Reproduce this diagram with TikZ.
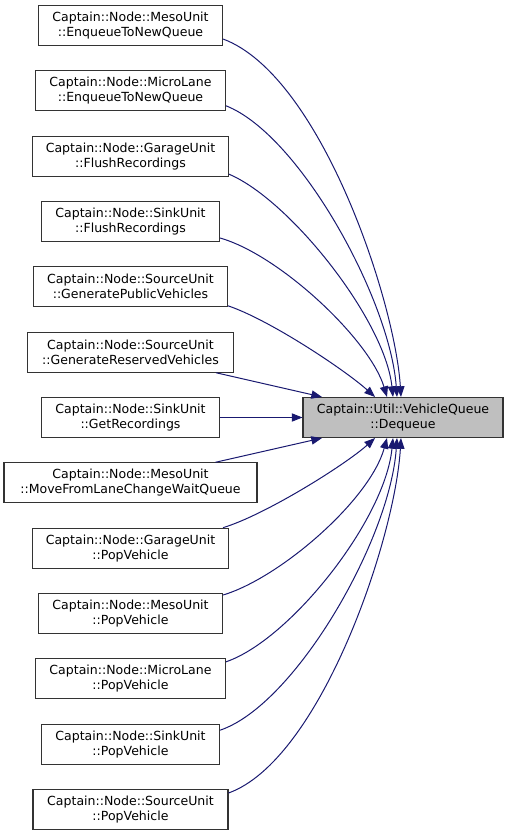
\documentclass[tikz,border=0pt]{standalone}
\usepackage{fontspec}
\setmainfont{DejaVu Sans}
\usetikzlibrary{arrows.meta,calc}
\definecolor{edgeblue}{HTML}{191970}
\definecolor{boxline}{HTML}{333333}
\definecolor{tgtfill}{HTML}{BFBFBF}
\begin{document}
\begin{tikzpicture}[x=0.75pt,y=-0.75pt,
  fn/.style={draw=boxline,line width=0.8pt,fill=white,minimum height=30pt,inner xsep=0pt,inner ysep=0pt,align=center,font=\fontsize{9.4pt}{11.25pt}\selectfont},
  tg/.style={fn,fill=tgtfill},
  ed/.style={draw=edgeblue,line width=0.75pt,-{Triangle[length=8pt,width=6.2pt]}}]
\useasboundingbox (0,0) rectangle (509,836);
\node[fn,minimum width=138pt] (n1) at (130.5,25.5) {Captain::Node::MesoUnit\\::EnqueueToNewQueue};
\node[fn,minimum width=142.5pt] (n2) at (130.5,90.8) {Captain::Node::MicroLane\\::EnqueueToNewQueue};
\node[fn,minimum width=147pt] (n3) at (130.5,156.2) {Captain::Node::GarageUnit\\::FlushRecordings};
\node[fn,minimum width=133.5pt] (n4) at (130.5,221.5) {Captain::Node::SinkUnit\\::FlushRecordings};
\node[fn,minimum width=145.5pt] (n5) at (130.5,286.8) {Captain::Node::SourceUnit\\::GeneratePublicVehicles};
\node[fn,minimum width=154.5pt] (n6) at (130.5,352.2) {Captain::Node::SourceUnit\\::GenerateReservedVehicles};
\node[fn,minimum width=133.5pt] (n7) at (130.5,417.5) {Captain::Node::SinkUnit\\::GetRecordings};
\node[fn,minimum width=189.75pt] (n8) at (130.5,482.8) {Captain::Node::MesoUnit\\::MoveFromLaneChangeWaitQueue};
\node[fn,minimum width=147pt] (n9) at (130.5,548.2) {Captain::Node::GarageUnit\\::PopVehicle};
\node[fn,minimum width=138pt] (n10) at (130.5,613.5) {Captain::Node::MesoUnit\\::PopVehicle};
\node[fn,minimum width=142.5pt] (n11) at (130.5,678.8) {Captain::Node::MicroLane\\::PopVehicle};
\node[fn,minimum width=133.5pt] (n12) at (130.5,744.2) {Captain::Node::SinkUnit\\::PopVehicle};
\node[fn,minimum width=146.25pt] (n13) at (130.5,809.5) {Captain::Node::SourceUnit\\::PopVehicle};
\node[tg,minimum width=150pt] (t) at (403,417.5) {Captain::Util::VehicleQueue\\::Dequeue};
% upper group
\draw[ed] ($(n1.east)+(0,13.5)$) .. controls (320,75) and (395,300) .. ($(t.north)+(-2,0)$);
\draw[ed] ($(n2.east)+(0,15)$) .. controls (300,135) and (390,300) .. ($(t.north)+(-6,0)$);
\draw[ed] ($(n3.east)+(0,18)$) .. controls (290,200) and (385,320) .. ($(t.north)+(-10,0)$);
\draw[ed] ($(n4.east)+(0,16.5)$) .. controls (280,255) and (370,340) .. ($(t.north)+(-16,0)$);
\draw[ed] ($(n5.east)+(0,19)$) .. controls (270,320) and (345,370) .. ($(t.north)+(-28,0)$);
\draw[ed] ($(n6.south east)+(-18,0)$) -- ($(t.north)+(-81,0)$);
\draw[ed] (n7.east) -- (t.west);
% lower group
\draw[ed] ($(n8.north east)+(-42,0)$) -- ($(t.south)+(-81,0)$);
\draw[ed] ($(n9.north east)+(-6,0)$) .. controls (265,515) and (345,465) .. ($(t.south)+(-28,0)$);
\draw[ed] ($(n10.east)+(0,-18.5)$) .. controls (280,578) and (370,500) .. ($(t.south)+(-16,0)$);
\draw[ed] ($(n11.east)+(0,-17)$) .. controls (290,640) and (385,520) .. ($(t.south)+(-10,0)$);
\draw[ed] ($(n12.east)+(0,-14)$) .. controls (295,705) and (390,540) .. ($(t.south)+(-6,0)$);
\draw[ed] ($(n13.east)+(0,-16.5)$) .. controls (320,760) and (395,540) .. ($(t.south)+(-2,0)$);
\end{tikzpicture}
\end{document}
